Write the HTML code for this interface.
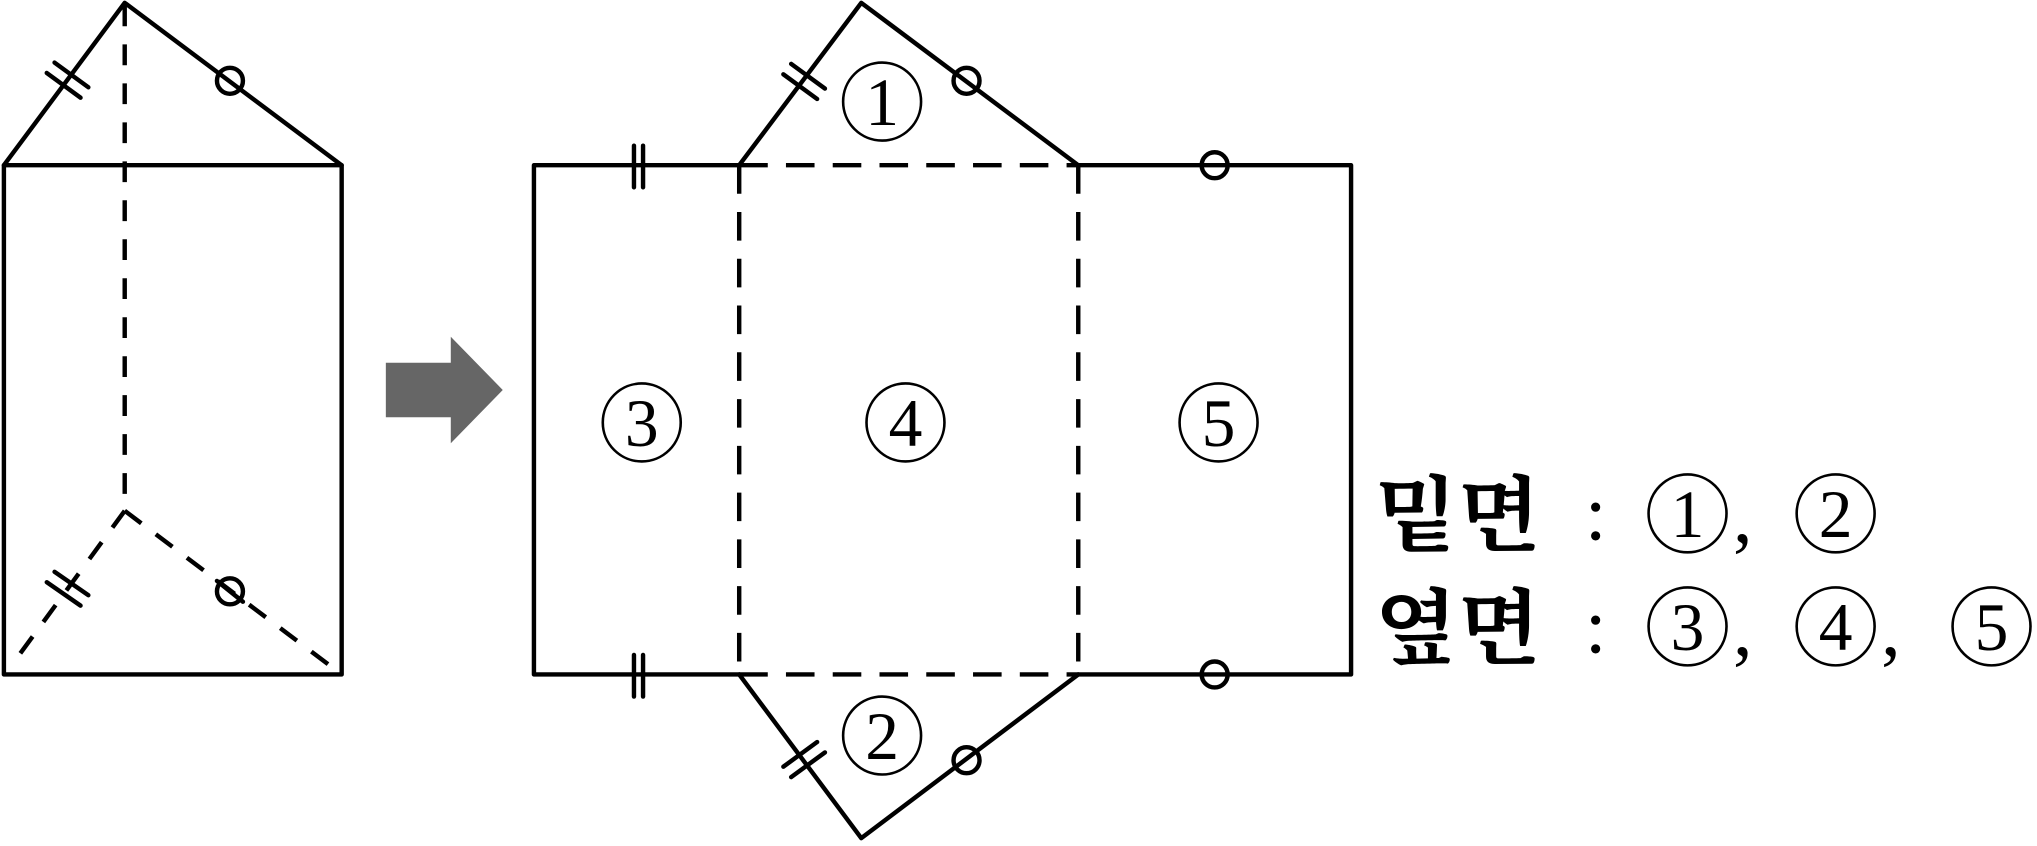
<!DOCTYPE html>
<html><head><meta charset="utf-8"><style>html,body{margin:0;padding:0;background:#fff;overflow:hidden}</style></head>
<body>
<svg width="2037" height="841" viewBox="0 0 1568 647" xmlns="http://www.w3.org/2000/svg">
<g stroke="#000" stroke-width="3.4" fill="none" stroke-linecap="round" stroke-linejoin="round">
<polyline points="3,127 96,2 263,127"/>
<rect x="3" y="127" width="260" height="392"/>
<g stroke-dasharray="16,14" stroke-linecap="butt">
<line x1="96" y1="4" x2="96" y2="393"/>
<line x1="96" y1="393" x2="14" y2="505"/>
<line x1="96" y1="393" x2="263" y2="519"/>
</g>
<line x1="36" y1="56" x2="62" y2="75"/><line x1="42" y1="48" x2="68" y2="67"/>
<circle cx="177" cy="62" r="10"/>
<line x1="36" y1="448" x2="62" y2="466"/><line x1="42" y1="440" x2="68" y2="458"/>
<circle cx="177" cy="455" r="10"/><line x1="167" y1="447" x2="187" y2="463"/>
<polyline points="569,127 411,127 411,519 569,519"/>
<polyline points="830,127 1040,127 1040,519 830,519"/>
<polyline points="569,127 663,2 830,127"/>
<polyline points="569,519 663,645 830,519"/>
<g stroke-dasharray="22,14" stroke-linecap="butt">
<line x1="569" y1="127" x2="830" y2="127"/>
<line x1="569" y1="519" x2="830" y2="519"/>
<line x1="569" y1="127" x2="569" y2="519"/>
<line x1="830" y1="127" x2="830" y2="519"/>
</g>
<line x1="488" y1="112" x2="488" y2="144"/><line x1="495" y1="112" x2="495" y2="144"/>
<line x1="488" y1="504" x2="488" y2="536"/><line x1="495" y1="504" x2="495" y2="536"/>
<circle cx="935" cy="127" r="10"/><circle cx="935" cy="519" r="10"/>
<line x1="603" y1="57" x2="629" y2="76"/><line x1="609" y1="49" x2="635" y2="68"/>
<circle cx="744" cy="62" r="10"/>
<line x1="603" y1="590" x2="629" y2="571"/><line x1="609" y1="598" x2="635" y2="579"/>
<circle cx="744" cy="585" r="10"/>
</g>
<polygon points="297,279 347,279 347,259 387,300 347,341 347,321 297,321" fill="#666"/>
<g fill="none" stroke="#000" stroke-width="2">
<circle cx="494" cy="325" r="30"/><circle cx="697" cy="325" r="30"/><circle cx="938" cy="325" r="30"/>
<circle cx="679" cy="78" r="30"/><circle cx="679" cy="566" r="30"/>
<circle cx="1299" cy="395" r="30"/><circle cx="1413" cy="395" r="30"/>
<circle cx="1299" cy="482" r="30"/><circle cx="1413" cy="482" r="30"/><circle cx="1533" cy="482" r="30"/>
</g>
<g font-family="Liberation Serif, serif" font-size="52" text-anchor="middle">
<text x="494" y="343">3</text><text x="697" y="343">4</text><text x="938" y="343">5</text>
<text x="679" y="96">1</text><text x="679" y="584">2</text>
<text x="1299" y="413">1</text><text x="1413" y="413">2</text>
<text x="1299" y="500">3</text><text x="1413" y="500">4</text><text x="1533" y="500">5</text>
</g>
<g font-family="Liberation Serif, 'Noto Serif CJK SC', serif" font-size="64" font-weight="bold">
<text x="1058" y="419" textLength="128" lengthAdjust="spacingAndGlyphs">밑면</text>
<text x="1058" y="506" textLength="128" lengthAdjust="spacingAndGlyphs">옆면</text>
</g>
<g font-family="Liberation Serif, serif" font-size="60">
<text x="1220" y="415">:</text><text x="1220" y="502">:</text>
<text x="1334" y="417">,</text><text x="1334" y="504">,</text><text x="1448" y="504">,</text>
</g>
</svg>
</body></html>
